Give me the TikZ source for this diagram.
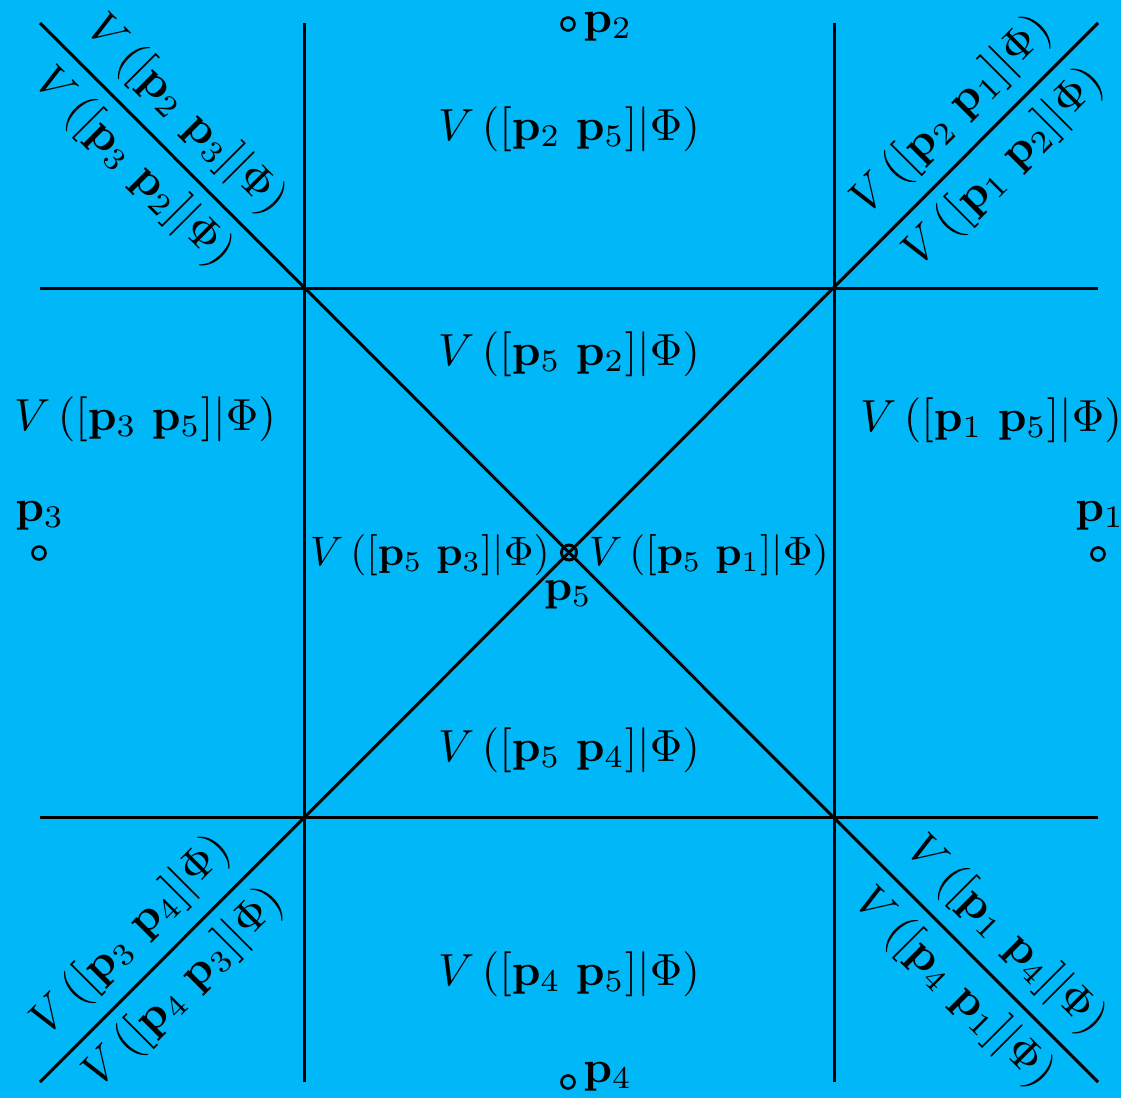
\documentclass[tikz,border=0pt]{standalone}
\usepackage{graphicx}
\definecolor{bgc}{RGB}{0,183,247}
\tikzset{
  edge/.style={line width=1.5pt, black},
  ptmark/.style={circle, draw=black, line width=1.3pt, minimum size=6.5pt, inner sep=0pt},
  lab/.style={inner sep=0pt, anchor=base},
}
\newcommand{\vlab}[3][2.25]{\scalebox{#1}{$V\,([\mathbf{p}_{#2}\ \mathbf{p}_{#3}]|\Phi)$}}
\newcommand{\plbl}[2]{\scalebox{#1}{$\mathbf{p}_{#2}$}}
\begin{document}
\begin{tikzpicture}[x=0.5pt,y=-0.5pt]
\fill[bgc] (0,0) rectangle (1121,1098);
\useasboundingbox (0,0) rectangle (1121,1098);
% frame coordinates
\coordinate (TL) at (40,23);
\coordinate (TR) at (1098,23);
\coordinate (BL) at (40,1082);
\coordinate (BR) at (1098,1082);
\coordinate (v1t) at (304,23);
\coordinate (v1b) at (304,1082);
\coordinate (v2t) at (834,23);
\coordinate (v2b) at (834,1082);
\coordinate (h1l) at (40,288);
\coordinate (h1r) at (1098,288);
\coordinate (h2l) at (40,817);
\coordinate (h2r) at (1098,817);
% lines
\draw[edge] (v1t) -- (v1b);
\draw[edge] (v2t) -- (v2b);
\draw[edge] (h1l) -- (h1r);
\draw[edge] (h2l) -- (h2r);
\draw[edge] (TL) -- (BR);
\draw[edge] (TR) -- (BL);
% points
\node[ptmark, minimum size=7.5pt, line width=1.5pt] (c5) at (569,552.5) {};
\node[ptmark] (c2) at (568,24) {};
\node[ptmark] (c4) at (568,1082) {};
\node[ptmark] (c3) at (39,553) {};
\node[ptmark] (c1) at (1098,554) {};
% point labels
\node[lab, anchor=base west] (l2) at (583,32) {\plbl{2.25}{2}};
\node[lab, anchor=base west] (l4) at (583,1082) {\plbl{2.25}{4}};
\node[lab, anchor=base west] (l3) at (15,521) {\plbl{2.25}{3}};
\node[lab, anchor=base west] (l1) at (1075,521) {\plbl{2.25}{1}};
\node[lab] (l5) at (568,600) {\plbl{2.2}{5}};
% horizontal region labels
\node[lab] (v25) at (569,140) {\vlab{2}{5}};
\node[lab] (v52) at (569,365) {\vlab{5}{2}};
\node[lab] (v35) at (145,430) {\vlab{3}{5}};
\node[lab] (v15) at (991,431) {\vlab{1}{5}};
\node[lab] (v53) at (430,565) {\vlab[2.06]{5}{3}};
\node[lab] (v51) at (709,565) {\vlab[2.06]{5}{1}};
\node[lab] (v54) at (569,761) {\vlab{5}{4}};
\node[lab] (v45) at (569,985) {\vlab{4}{5}};
% diagonal labels
\node[lab, rotate=-45] (v23) at (177.9,123.2) {\vlab{2}{3}};
\node[lab, rotate=-45] (v32) at (125.6,175.5) {\vlab{3}{2}};
\node[lab, rotate=45] (v21) at (960.1,123.2) {\vlab{2}{1}};
\node[lab, rotate=45] (v12) at (1012.4,175.5) {\vlab{1}{2}};
\node[lab, rotate=45] (v34) at (139.7,943.7) {\vlab{3}{4}};
\node[lab, rotate=45] (v43) at (192,996) {\vlab{4}{3}};
\node[lab, rotate=-45] (v14) at (998.3,943.7) {\vlab{1}{4}};
\node[lab, rotate=-45] (v41) at (946,996) {\vlab{4}{1}};
\end{tikzpicture}
\end{document}
